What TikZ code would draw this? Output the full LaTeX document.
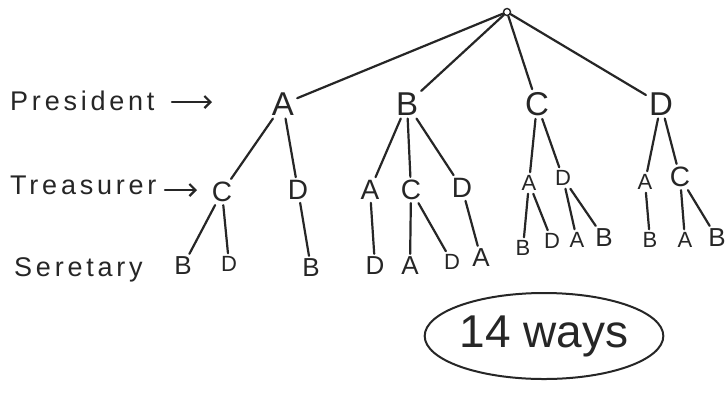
\documentclass[tikz,border=0pt]{standalone}
\usepackage{fontspec}
\setmainfont{Liberation Sans}
\usetikzlibrary{arrows.meta,shapes.geometric}
\begin{document}
\begin{tikzpicture}[x=1pt,y=-1pt,
  ink/.style={line width=2.2pt, draw=black!85, line cap=round},
  lvone/.style={font=\fontsize{33}{35}\selectfont, inner sep=3pt, text=black!85},
  lvtwo/.style={font=\fontsize{28}{30}\selectfont, inner sep=3pt, text=black!85},
  lvthree/.style={font=\fontsize{26}{28}\selectfont, inner sep=3pt, text=black!85},
  lvsmall/.style={font=\fontsize{22}{24}\selectfont, inner sep=3pt, text=black!85},
  rowlabel/.style={font=\fontsize{27}{29}\selectfont\addfontfeatures{LetterSpace=14}, anchor=west, inner sep=2pt, text=black!85},
  arr/.style={ink, -{Straight Barb[length=6pt,width=12pt]}}]
\useasboundingbox[fill=white] (0,0) rectangle (727,392);

% root
\node[circle, draw=black!85, line width=1.4pt, inner sep=0pt, minimum size=7pt] (root) at (507,12) {};

% presidents
\node[lvone] (a) at (283,104) {A};
\node[lvone] (b) at (407,104) {B};
\node[lvone] (c) at (537,104) {C};
\node[lvone] (d) at (661,104) {D};

% treasurers
\node[lvtwo] (ac) at (222,192) {C};
\node[lvtwo] (ad) at (298,190) {D};
\node[lvtwo] (ba) at (370,190) {A};
\node[lvtwo] (bc) at (411,190) {C};
\node[lvtwo] (bd) at (462,188) {D};
\node[lvsmall] (ca) at (529,183) {A};
\node[lvsmall] (cd) at (563,178) {D};
\node[lvsmall] (da) at (645,182) {A};
\node[lvtwo] (dc) at (680,177) {C};

% secretaries
\node[lvthree] (acb) at (183,266) {B};
\node[lvsmall] (acd) at (229,264) {D};
\node[lvthree] (adb) at (311,268) {B};
\node[lvthree] (bad) at (375,266) {D};
\node[lvthree] (bca) at (410,266) {A};
\node[lvsmall] (bcd) at (452,262) {D};
\node[lvthree] (bda) at (481,258) {A};
\node[lvsmall] (cab) at (523,248) {B};
\node[lvsmall] (cad) at (552,241) {D};
\node[lvsmall] (cda) at (577,240) {A};
\node[lvthree] (cdb) at (604,238) {B};
\node[lvsmall] (dab) at (650,240) {B};
\node[lvsmall] (dca) at (685,240) {A};
\node[lvthree] (dcb) at (717,238) {B};

% branches
\foreach \p/\q in {root/a, root/b, root/c, root/d,
                   a/ac, a/ad, b/ba, b/bc, b/bd, c/ca, c/cd, d/da, d/dc,
                   ac/acb, ac/acd, ad/adb, ba/bad, bc/bca, bc/bcd, bd/bda,
                   ca/cab, ca/cad, cd/cda, cd/cdb, da/dab, dc/dca, dc/dcb}
  \draw[ink] (\p) -- (\q);

% row labels
\node[rowlabel] (pres) at (8,101) {President};
\node[rowlabel] (treas) at (8,185) {Treasurer};
\node[rowlabel] (secr) at (12,270) {Seretary};
\coordinate (ps) at (172,102);
\coordinate (pa) at (212,102);
\coordinate (ts) at (165,190);
\coordinate (ta) at (197,190);
\draw[arr] (ps) -- (pa);
\draw[arr] (ts) -- (ta);

% total
\node[ellipse, draw=black!85, line width=2pt, inner sep=0pt,
      minimum width=238pt, minimum height=86pt,
      font=\fontsize{46}{48}\selectfont, text=black!85] (total) at (544,336) {14 ways};
\end{tikzpicture}
\end{document}
